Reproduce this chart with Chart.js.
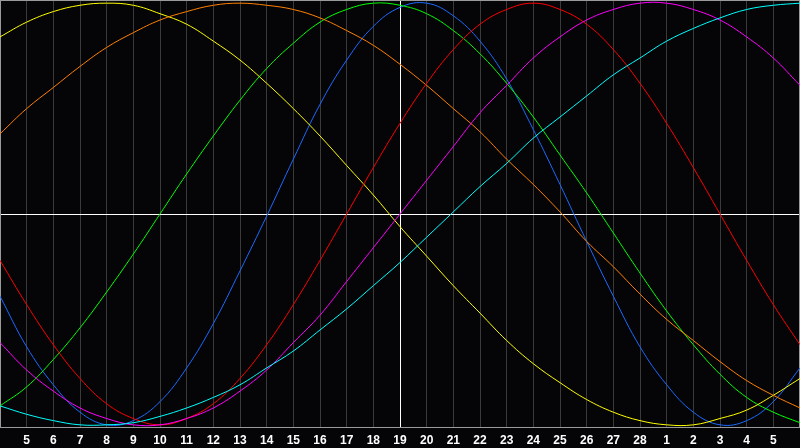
<!DOCTYPE html>
<html>
<head>
<meta charset="utf-8">
<script src="https://cdn.jsdelivr.net/npm/chart.js@4/dist/chart.umd.min.js"></script>
<style>
  html, body { margin: 0; padding: 0; background: #050508; }
  #wrap { width: 800px; height: 448px; position: relative; }
</style>
</head>
<body>
<div id="wrap"><canvas id="bioChart"></canvas></div>
<script>
// days along the bottom (first and last sit on the chart edges, unlabelled)
const days = ['4', '5', '6', '7', '8', '9', '10', '11', '12', '13', '14', '15', '16', '17', '18',
    '19', '20', '21', '22', '23', '24', '25', '26', '27', '28', '1', '2', '3', '4', '5', '6'];

// values, one per day, scale -1..1
const yellow = [0.84, 0.91, 0.96, 0.99, 1.00, 0.99, 0.95, 0.90, 0.82, 0.73, 0.62, 0.50, 0.37, 0.23, 0.09,
    -0.06, -0.20, -0.34, -0.47, -0.60, -0.71, -0.80, -0.88, -0.94, -0.98, -1.00, -1.00, -0.97, -0.93, -0.86, -0.78];
const orange = [0.38, 0.50, 0.60, 0.70, 0.79, 0.86, 0.92, 0.96, 0.99, 1.00, 0.99, 0.97, 0.93, 0.87, 0.80,
    0.71, 0.61, 0.50, 0.39, 0.26, 0.14, 0.01, -0.13, -0.25, -0.38, -0.50, -0.60, -0.70, -0.79, -0.86, -0.92];
const green = [-0.91, -0.82, -0.69, -0.54, -0.37, -0.19, 0.00, 0.19, 0.37, 0.54, 0.69, 0.81, 0.91, 0.97, 1.00,
    0.99, 0.95, 0.87, 0.76, 0.62, 0.46, 0.28, 0.10, -0.09, -0.28, -0.46, -0.62, -0.76, -0.87, -0.94, -0.99];
const blue = [-0.39, -0.63, -0.81, -0.94, -1.00, -0.98, -0.89, -0.73, -0.52, -0.27, -0.01, 0.26, 0.52, 0.73, 0.89,
    0.98, 1.00, 0.94, 0.82, 0.64, 0.40, 0.14, -0.13, -0.39, -0.63, -0.81, -0.94, -1.00, -0.98, -0.89, -0.73];
const red = [-0.22, -0.43, -0.62, -0.78, -0.90, -0.97, -1.00, -0.97, -0.90, -0.78, -0.62, -0.43, -0.22, 0.00, 0.22,
    0.43, 0.62, 0.78, 0.90, 0.97, 1.00, 0.97, 0.90, 0.78, 0.62, 0.43, 0.22, 0.00, -0.22, -0.43, -0.62];
const magenta = [-0.61, -0.74, -0.84, -0.92, -0.97, -1.00, -1.00, -0.97, -0.92, -0.84, -0.74, -0.61, -0.48, -0.32, -0.16,
    0.00, 0.16, 0.32, 0.48, 0.61, 0.74, 0.84, 0.92, 0.97, 1.00, 1.00, 0.97, 0.92, 0.84, 0.74, 0.61];
const cyan = [-0.91, -0.95, -0.98, -1.00, -1.00, -0.99, -0.96, -0.92, -0.87, -0.81, -0.73, -0.65, -0.55, -0.45, -0.34,
    -0.23, -0.11, 0.01, 0.13, 0.24, 0.36, 0.46, 0.56, 0.66, 0.74, 0.82, 0.88, 0.93, 0.97, 0.99, 1.00];

const todayIndex = 15;

// black background + grey frame round the plot
const framePlugin = {
    id: 'frame',
    beforeDraw(chart) {
        const c = chart.ctx;
        c.save();
        c.fillStyle = '#050508';
        c.fillRect(0, 0, chart.width, chart.height);
        c.restore();
    },
    beforeDatasetsDraw(chart) {
        const a = chart.chartArea;
        const c = chart.ctx;
        c.save();
        c.strokeStyle = '#9a9a9a';
        c.lineWidth = 1;
        c.strokeRect(a.left + 0.5, a.top + 0.5, a.right - a.left - 1, a.bottom - a.top - 1);
        c.restore();
    }
};

function line(data, color) {
    return {
        data: data,
        borderColor: color,
        borderWidth: 1,
        pointRadius: 0,
        pointHoverRadius: 0,
        fill: false,
        tension: 0.4
    };
}

var ctx = document.getElementById('bioChart').getContext('2d');

new Chart(ctx, {
    type: 'line',
    data: {
        labels: days,
        datasets: [
            line(cyan, '#00ffff'),
            line(magenta, '#ff00ff'),
            line(red, '#ff0000'),
            line(orange, '#ff8000'),
            line(yellow, '#ffff00'),
            line(green, '#00ff00'),
            line(blue, '#1a6aff')
        ]
    },
    options: {
        responsive: true,
        maintainAspectRatio: false,
        devicePixelRatio: 1,
        animation: false,
        layout: { autoPadding: false, padding: 0 },
        plugins: {
            legend: { display: false },
            tooltip: { enabled: false }
        },
        scales: {
            x: {
                offset: false,
                border: { display: false },
                afterFit: (s) => {
                    s.height = 20;
                    s.paddingLeft = 0;
                    s.paddingRight = 0;
                },
                grid: {
                    drawTicks: false,
                    color: (c) => c.index === todayIndex ? '#ffffff' : '#3a3a3a',
                    lineWidth: 1
                },
                ticks: {
                    autoSkip: false,
                    maxRotation: 0,
                    padding: 5,
                    color: '#ffffff',
                    font: { family: 'Liberation Sans', size: 12, weight: 'bold' },
                    callback: function (v, i) {
                        return (i === 0 || i === days.length - 1) ? '' : days[i];
                    }
                }
            },
            y: {
                min: -1.015,
                max: 1.015,
                border: { display: false },
                afterFit: (s) => { s.width = 0; },
                afterBuildTicks: (s) => { s.ticks = [{ value: 0 }]; },
                grid: { drawTicks: false, color: '#ffffff', lineWidth: 1 },
                ticks: { display: false }
            }
        }
    },
    plugins: [framePlugin]
});
</script>
</body>
</html>
